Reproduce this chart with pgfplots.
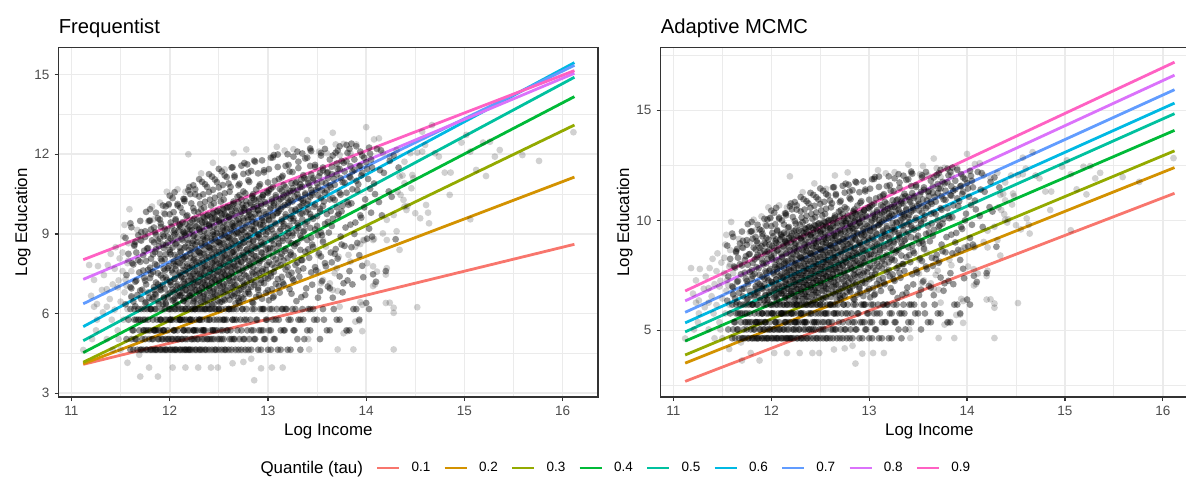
\documentclass[border=0pt]{standalone}
\usepackage{fontspec}
\setmainfont{Liberation Sans}
\usepackage{pgfplots}
\usepackage{pgfplotstable}
\pgfplotsset{compat=1.18}

\definecolor{grey92}{HTML}{EBEBEB}
\definecolor{grey20}{HTML}{333333}
\definecolor{grey30}{HTML}{4D4D4D}
\definecolor{q1}{HTML}{F8766D}
\definecolor{q2}{HTML}{D39200}
\definecolor{q3}{HTML}{93AA00}
\definecolor{q4}{HTML}{00BA38}
\definecolor{q5}{HTML}{00C19F}
\definecolor{q6}{HTML}{00B9E3}
\definecolor{q7}{HTML}{619CFF}
\definecolor{q8}{HTML}{DB72FB}
\definecolor{q9}{HTML}{FF61C3}

% dense part of the cloud (log income, log education), first sweep
\pgfplotstableread{
x y
11.63 4.64
11.67 4.64
11.61 5.04
11.65 5.04
11.69 5.37
11.62 5.37
11.66 5.77
11.64 5.77
11.68 6.17
11.60 6.17
11.63 6.45
11.67 6.70
11.61 6.95
11.65 7.20
11.69 7.55
11.62 7.90
11.66 8.30
11.64 8.60
11.68 8.95
11.60 9.40
11.73 4.64
11.77 4.64
11.71 4.64
11.75 5.04
11.79 5.04
11.72 5.04
11.76 5.37
11.74 5.37
11.78 5.77
11.70 5.77
11.73 5.77
11.77 6.17
11.71 6.17
11.75 6.40
11.79 6.60
11.72 6.90
11.76 7.10
11.74 7.35
11.78 7.65
11.70 7.95
11.73 8.20
11.77 8.45
11.71 8.75
11.75 9.10
11.79 9.50
11.83 4.64
11.87 4.64
11.81 4.64
11.85 4.64
11.89 5.04
11.82 5.04
11.86 5.37
11.84 5.37
11.88 5.37
11.80 5.37
11.83 5.77
11.87 5.77
11.81 6.17
11.85 6.17
11.89 6.37
11.82 6.54
11.86 6.71
11.84 6.89
11.88 7.10
11.80 7.34
11.83 7.57
11.87 7.82
11.81 8.07
11.85 8.32
11.89 8.54
11.82 8.76
11.86 8.97
11.84 9.24
11.88 9.59
11.80 9.93
11.93 4.64
11.97 4.64
11.91 4.64
11.95 4.64
11.99 5.04
11.92 5.04
11.96 5.04
11.94 5.37
11.98 5.37
11.90 5.37
11.93 5.37
11.97 5.77
11.91 5.77
11.95 6.17
11.99 6.17
11.92 6.17
11.96 6.40
11.94 6.58
11.98 6.73
11.90 6.91
11.93 7.09
11.97 7.27
11.91 7.44
11.95 7.62
11.99 7.79
11.92 7.99
11.96 8.23
11.94 8.47
11.98 8.67
11.90 8.82
11.93 8.98
11.97 9.13
11.91 9.39
11.95 9.75
11.99 10.12
12.03 4.64
12.07 4.64
12.01 4.64
12.05 4.64
12.09 5.04
12.02 5.04
12.06 5.04
12.04 5.37
12.08 5.37
12.00 5.77
12.03 5.77
12.07 5.77
12.01 5.77
12.05 6.17
12.09 6.17
12.02 6.17
12.06 6.40
12.04 6.53
12.08 6.65
12.00 6.78
12.03 6.91
12.07 7.04
12.01 7.18
12.05 7.31
12.09 7.46
12.02 7.63
12.06 7.80
12.04 7.97
12.08 8.14
12.00 8.31
12.03 8.49
12.07 8.66
12.01 8.83
12.05 8.98
12.09 9.13
12.02 9.28
12.06 9.51
12.04 9.82
12.08 10.13
12.00 10.44
12.13 4.64
12.17 4.64
12.11 4.64
12.15 4.64
12.19 4.64
12.12 5.04
12.16 5.04
12.14 5.37
12.18 5.37
12.10 5.77
12.13 5.77
12.17 5.77
12.11 5.77
12.15 5.77
12.19 6.17
12.12 6.17
12.16 6.17
12.14 6.47
12.18 6.58
12.10 6.68
12.13 6.78
12.17 6.89
12.11 6.99
12.15 7.11
12.19 7.24
12.12 7.37
12.16 7.50
12.14 7.64
12.18 7.77
12.10 7.90
12.13 8.03
12.17 8.16
12.11 8.31
12.15 8.48
12.19 8.65
12.12 8.82
12.16 8.96
12.14 9.08
12.18 9.20
12.10 9.32
12.13 9.44
12.17 9.66
12.11 9.99
12.15 10.31
12.19 10.64
12.23 4.64
12.27 4.64
12.21 4.64
12.25 5.04
12.29 5.04
12.22 5.04
12.26 5.37
12.24 5.37
12.28 5.37
12.20 5.37
12.23 5.77
12.27 5.77
12.21 5.77
12.25 6.17
12.29 6.17
12.22 6.17
12.26 6.17
12.24 6.41
12.28 6.56
12.20 6.67
12.23 6.77
12.27 6.88
12.21 6.98
12.25 7.08
12.29 7.19
12.22 7.29
12.26 7.40
12.24 7.50
12.28 7.61
12.20 7.72
12.23 7.83
12.27 7.96
12.21 8.09
12.25 8.22
12.29 8.35
12.22 8.47
12.26 8.60
12.24 8.73
12.28 8.86
12.20 9.00
12.23 9.13
12.27 9.28
12.21 9.42
12.25 9.57
12.29 9.81
12.22 10.15
12.26 10.49
12.24 10.83
12.33 4.64
12.37 4.64
12.31 4.64
12.35 5.04
12.39 5.04
12.32 5.37
12.36 5.37
12.34 5.37
12.38 5.77
12.30 5.77
12.33 5.77
12.37 6.17
12.31 6.17
12.35 6.17
12.39 6.32
12.32 6.43
12.36 6.54
12.34 6.65
12.38 6.76
12.30 6.87
12.33 6.97
12.37 7.07
12.31 7.18
12.35 7.28
12.39 7.39
12.32 7.49
12.36 7.60
12.34 7.71
12.38 7.81
12.30 7.92
12.33 8.03
12.37 8.16
12.31 8.28
12.35 8.40
12.39 8.53
12.32 8.65
12.36 8.77
12.34 8.90
12.38 9.02
12.30 9.15
12.33 9.27
12.37 9.38
12.31 9.50
12.35 9.61
12.39 9.72
12.32 9.92
12.36 10.21
12.34 10.49
12.38 10.77
12.30 11.06
12.43 4.64
12.47 4.64
12.41 5.04
12.45 5.04
12.49 5.04
12.42 5.37
12.46 5.37
12.44 5.37
12.48 5.77
12.40 5.77
12.43 6.17
12.47 6.17
12.41 6.17
12.45 6.38
12.49 6.49
12.42 6.61
12.46 6.72
12.44 6.83
12.48 6.94
12.40 7.05
12.43 7.16
12.47 7.27
12.41 7.37
12.45 7.48
12.49 7.58
12.42 7.68
12.46 7.79
12.44 7.90
12.48 8.01
12.40 8.12
12.43 8.23
12.47 8.35
12.41 8.47
12.45 8.59
12.49 8.71
12.42 8.83
12.46 8.95
12.44 9.07
12.48 9.19
12.40 9.31
12.43 9.43
12.47 9.54
12.41 9.65
12.45 9.76
12.49 9.87
12.42 10.07
12.46 10.36
12.44 10.66
12.48 10.95
12.40 11.25
12.53 4.64
12.57 4.64
12.51 5.04
12.55 5.04
12.59 5.37
12.52 5.37
12.56 5.77
12.54 5.77
12.58 5.77
12.50 6.17
12.53 6.17
12.57 6.17
12.51 6.42
12.55 6.54
12.59 6.67
12.52 6.79
12.56 6.90
12.54 7.02
12.58 7.13
12.50 7.24
12.53 7.35
12.57 7.46
12.51 7.57
12.55 7.67
12.59 7.78
12.52 7.88
12.56 7.99
12.54 8.10
12.58 8.21
12.50 8.32
12.53 8.43
12.57 8.54
12.51 8.66
12.55 8.78
12.59 8.89
12.52 9.01
12.56 9.12
12.54 9.24
12.58 9.35
12.50 9.46
12.53 9.58
12.57 9.69
12.51 9.80
12.55 9.91
12.59 10.02
12.52 10.22
12.56 10.53
12.54 10.84
12.58 11.14
12.50 11.45
12.63 4.64
12.67 4.64
12.61 5.04
12.65 5.04
12.69 5.37
12.62 5.37
12.66 5.77
12.64 5.77
12.68 6.17
12.60 6.17
12.63 6.17
12.67 6.39
12.61 6.52
12.65 6.65
12.69 6.78
12.62 6.97
12.66 7.08
12.64 7.20
12.68 7.32
12.60 7.43
12.63 7.54
12.67 7.65
12.61 7.76
12.65 7.87
12.69 7.98
12.62 8.08
12.66 8.19
12.64 8.30
12.68 8.41
12.60 8.52
12.63 8.63
12.67 8.74
12.61 8.85
12.65 8.96
12.69 9.07
12.62 9.18
12.66 9.29
12.64 9.40
12.68 9.51
12.60 9.62
12.63 9.75
12.67 9.88
12.61 10.01
12.65 10.14
12.69 10.40
12.62 10.77
12.66 11.14
12.64 11.51
12.73 4.64
12.77 4.64
12.71 5.04
12.75 5.04
12.79 5.37
12.72 5.77
12.76 5.77
12.74 6.17
12.78 6.17
12.70 6.47
12.73 6.61
12.77 6.75
12.71 6.88
12.75 7.02
12.79 7.17
12.72 7.32
12.76 7.47
12.74 7.62
12.78 7.74
12.70 7.85
12.73 7.96
12.77 8.07
12.71 8.18
12.75 8.30
12.79 8.43
12.72 8.56
12.76 8.69
12.74 8.81
12.78 8.92
12.70 9.03
12.73 9.14
12.77 9.25
12.71 9.37
12.75 9.50
12.79 9.63
12.72 9.76
12.76 9.88
12.74 9.98
12.78 10.09
12.70 10.19
12.73 10.30
12.77 10.53
12.71 10.89
12.75 11.26
12.79 11.62
12.83 4.64
12.87 5.04
12.81 5.04
12.85 5.37
12.89 5.77
12.82 5.77
12.86 6.17
12.84 6.43
12.88 6.63
12.80 6.81
12.83 7.00
12.87 7.18
12.81 7.35
12.85 7.50
12.89 7.65
12.82 7.80
12.86 7.94
12.84 8.05
12.88 8.16
12.80 8.27
12.83 8.38
12.87 8.50
12.81 8.63
12.85 8.76
12.89 8.89
12.82 9.03
12.86 9.16
12.84 9.29
12.88 9.42
12.80 9.53
12.83 9.63
12.87 9.74
12.81 9.84
12.85 9.94
12.89 10.05
12.82 10.18
12.86 10.30
12.84 10.43
12.88 10.67
12.80 11.02
12.83 11.37
12.87 11.72
12.93 4.64
12.97 5.04
12.91 5.37
12.95 5.37
12.99 5.77
12.92 6.17
12.96 6.17
12.94 6.56
12.98 6.78
12.90 6.97
12.93 7.16
12.97 7.34
12.91 7.52
12.95 7.68
12.99 7.83
12.92 7.99
12.96 8.14
12.94 8.28
12.98 8.41
12.90 8.55
12.93 8.69
12.97 8.82
12.91 8.96
12.95 9.09
12.99 9.22
12.92 9.35
12.96 9.47
12.94 9.60
12.98 9.74
12.90 9.90
12.93 10.06
12.97 10.20
12.91 10.33
12.95 10.45
12.99 10.58
12.92 10.87
12.96 11.32
12.94 11.77
13.03 4.64
13.07 5.04
13.01 5.37
13.05 5.77
13.09 6.17
13.02 6.17
13.06 6.65
13.04 6.92
13.08 7.12
13.00 7.32
13.03 7.52
13.07 7.73
13.01 7.94
13.05 8.15
13.09 8.33
13.02 8.47
13.06 8.61
13.04 8.75
13.08 8.91
13.00 9.09
13.03 9.27
13.07 9.42
13.01 9.54
13.05 9.66
13.09 9.78
13.02 9.92
13.06 10.07
13.04 10.22
13.08 10.38
13.00 10.54
13.03 10.70
13.07 11.00
13.01 11.44
13.05 11.88
13.13 4.64
13.17 5.37
13.11 5.77
13.15 6.17
13.19 6.17
13.12 6.79
13.16 7.10
13.14 7.38
13.18 7.66
13.10 7.91
13.13 8.13
13.17 8.35
13.11 8.55
13.15 8.74
13.19 8.93
13.12 9.11
13.16 9.29
13.14 9.47
13.18 9.64
13.10 9.79
13.13 9.94
13.17 10.09
13.11 10.24
13.15 10.38
13.19 10.53
13.12 10.69
13.16 10.84
13.14 11.13
13.18 11.56
13.10 11.99
13.23 4.64
13.27 5.37
13.21 5.77
13.25 6.17
13.29 6.47
13.22 6.92
13.26 7.25
13.24 7.54
13.28 7.83
13.20 8.09
13.23 8.31
13.27 8.54
13.21 8.75
13.25 8.94
13.29 9.13
13.22 9.31
13.26 9.49
13.24 9.67
13.28 9.87
13.20 10.09
13.23 10.27
13.27 10.41
13.21 10.54
13.25 10.72
13.29 10.95
13.22 11.35
13.26 11.91
13.33 4.64
13.37 5.04
13.31 5.77
13.35 6.17
13.39 6.95
13.32 7.39
13.36 7.70
13.34 8.01
13.38 8.33
13.30 8.67
13.33 8.94
13.37 9.13
13.31 9.32
13.35 9.55
13.39 9.82
13.32 10.02
13.36 10.17
13.34 10.31
13.38 10.48
13.30 10.66
13.33 10.87
13.37 11.10
13.31 11.48
13.35 12.03
13.43 5.37
13.47 5.77
13.41 6.17
13.45 7.09
13.49 7.63
13.42 8.10
13.46 8.51
13.44 8.86
13.48 9.17
13.40 9.46
13.43 9.75
13.47 10.02
13.41 10.25
13.45 10.46
13.49 10.65
13.42 10.83
13.46 11.03
13.44 11.24
13.48 11.52
13.40 11.87
13.43 12.22
13.53 5.04
13.57 5.77
13.51 6.60
13.55 7.22
13.59 7.78
13.52 8.27
13.56 8.70
13.54 9.05
13.58 9.38
13.50 9.67
13.53 9.95
13.57 10.22
13.51 10.45
13.55 10.64
13.59 10.90
13.52 11.17
13.56 11.39
13.54 11.95
13.63 5.37
13.67 6.17
13.61 7.02
13.65 7.93
13.69 8.43
13.62 9.05
13.66 9.57
13.64 9.86
13.68 10.28
13.60 10.64
13.63 10.83
13.67 11.07
13.61 11.33
13.65 11.53
13.69 12.06
13.73 5.77
13.77 7.14
13.71 8.07
13.75 8.60
13.79 9.24
13.72 9.76
13.76 10.06
13.74 10.48
13.78 10.93
13.70 11.24
13.73 11.45
13.77 11.68
13.71 12.14
13.83 5.37
13.87 6.17
13.81 7.25
13.85 8.50
13.89 9.43
13.82 10.10
13.86 10.68
13.84 11.12
13.88 11.41
13.80 11.73
13.83 12.20
13.93 5.77
13.97 7.37
13.91 8.66
13.95 9.61
13.99 10.30
13.92 10.87
13.96 11.30
13.94 11.57
13.98 11.87
13.90 12.30
14.03 6.17
14.07 7.48
14.01 8.82
14.05 9.80
14.09 10.50
14.02 11.07
14.06 11.50
14.04 12.02
}\densepts

% dense part, second sweep read between the first one
\pgfplotstableread{
x y
11.60 4.64
11.56 5.04
11.63 5.37
11.58 5.77
11.64 6.17
11.55 6.35
11.61 6.65
11.60 7.00
11.56 7.45
11.63 7.85
11.58 8.25
11.64 8.55
11.55 8.85
11.61 9.25
11.70 4.64
11.66 5.04
11.73 5.37
11.68 5.77
11.74 6.17
11.65 6.28
11.71 6.55
11.70 6.87
11.66 7.24
11.73 7.62
11.68 8.01
11.74 8.37
11.65 8.70
11.71 9.07
11.70 9.49
11.80 4.64
11.76 4.64
11.83 5.04
11.78 5.37
11.84 5.37
11.75 5.77
11.81 6.17
11.80 6.17
11.76 6.44
11.83 6.62
11.78 6.79
11.84 7.00
11.75 7.24
11.81 7.48
11.80 7.73
11.76 7.98
11.83 8.23
11.78 8.47
11.84 8.68
11.75 8.89
11.81 9.17
11.80 9.50
11.76 9.83
11.90 4.64
11.86 4.64
11.93 5.04
11.88 5.04
11.94 5.37
11.85 5.37
11.91 5.77
11.90 5.77
11.86 6.17
11.93 6.36
11.88 6.48
11.94 6.61
11.85 6.74
11.91 6.88
11.90 7.01
11.86 7.17
11.93 7.34
11.88 7.52
11.94 7.69
11.85 7.87
11.91 8.06
11.90 8.24
11.86 8.43
11.93 8.60
11.88 8.75
11.94 8.91
11.85 9.06
11.91 9.27
11.90 9.54
11.86 9.80
11.93 10.07
12.00 4.64
11.96 4.64
12.03 5.04
11.98 5.04
12.04 5.37
11.95 5.77
12.01 5.77
12.00 6.17
11.96 6.36
12.03 6.49
11.98 6.61
12.04 6.81
11.95 6.94
12.01 7.08
12.00 7.21
11.96 7.37
12.03 7.54
11.98 7.71
12.04 7.88
11.95 8.05
12.01 8.23
12.00 8.40
11.96 8.58
12.03 8.75
11.98 8.90
12.04 9.05
11.95 9.20
12.01 9.43
12.00 9.74
11.96 10.04
12.03 10.35
12.10 4.64
12.06 4.64
12.13 5.04
12.08 5.04
12.14 5.37
12.05 5.37
12.11 5.77
12.10 5.77
12.06 6.17
12.13 6.17
12.08 6.32
12.14 6.49
12.05 6.59
12.11 6.69
12.10 6.79
12.06 6.89
12.13 6.99
12.08 7.10
12.14 7.21
12.05 7.31
12.11 7.42
12.10 7.54
12.06 7.67
12.13 7.81
12.08 7.94
12.14 8.07
12.05 8.21
12.11 8.35
12.10 8.49
12.06 8.62
12.13 8.76
12.08 8.89
12.14 9.01
12.05 9.13
12.11 9.25
12.10 9.37
12.06 9.56
12.13 9.81
12.08 10.07
12.14 10.32
12.05 10.57
12.20 4.64
12.16 4.64
12.23 5.04
12.18 5.04
12.24 5.37
12.15 5.37
12.21 5.77
12.20 5.77
12.16 6.17
12.23 6.17
12.18 6.37
12.24 6.48
12.15 6.58
12.21 6.68
12.20 6.78
12.16 6.89
12.23 6.99
12.18 7.09
12.24 7.19
12.15 7.30
12.21 7.41
12.20 7.51
12.16 7.62
12.23 7.74
12.18 7.87
12.24 8.00
12.15 8.13
12.21 8.26
12.20 8.39
12.16 8.52
12.23 8.65
12.18 8.78
12.24 8.91
12.15 9.04
12.21 9.16
12.20 9.28
12.16 9.39
12.23 9.51
12.18 9.70
12.24 9.97
12.15 10.23
12.21 10.50
12.20 10.77
12.30 4.64
12.26 4.64
12.33 5.04
12.28 5.04
12.34 5.37
12.25 5.37
12.31 5.77
12.30 5.77
12.26 6.17
12.33 6.17
12.28 6.34
12.34 6.45
12.25 6.56
12.31 6.66
12.30 6.77
12.26 6.87
12.33 6.97
12.28 7.08
12.34 7.18
12.25 7.29
12.31 7.39
12.30 7.50
12.26 7.60
12.33 7.71
12.28 7.82
12.34 7.93
12.25 8.06
12.31 8.18
12.30 8.31
12.26 8.44
12.33 8.56
12.28 8.69
12.34 8.82
12.25 8.95
12.31 9.08
12.30 9.20
12.26 9.31
12.33 9.43
12.28 9.54
12.34 9.65
12.25 9.85
12.31 10.13
12.30 10.41
12.26 10.68
12.33 10.96
12.40 4.64
12.36 4.64
12.43 5.04
12.38 5.04
12.44 5.37
12.35 5.37
12.41 5.77
12.40 6.17
12.36 6.17
12.43 6.35
12.38 6.52
12.44 6.63
12.35 6.74
12.41 6.85
12.40 6.96
12.36 7.06
12.43 7.17
12.38 7.27
12.44 7.37
12.35 7.48
12.41 7.58
12.40 7.69
12.36 7.80
12.43 7.91
12.38 8.02
12.44 8.13
12.35 8.25
12.41 8.37
12.40 8.50
12.36 8.62
12.43 8.74
12.38 8.86
12.44 8.98
12.35 9.11
12.41 9.23
12.40 9.35
12.36 9.46
12.43 9.57
12.38 9.68
12.44 9.79
12.35 9.99
12.41 10.29
12.40 10.58
12.36 10.87
12.43 11.16
12.50 4.64
12.46 4.64
12.53 5.04
12.48 5.37
12.54 5.37
12.45 5.77
12.51 5.77
12.50 6.17
12.46 6.17
12.53 6.45
12.48 6.70
12.54 6.81
12.45 6.93
12.51 7.04
12.50 7.15
12.46 7.26
12.53 7.37
12.48 7.47
12.54 7.57
12.45 7.68
12.51 7.78
12.50 7.89
12.46 8.00
12.53 8.11
12.48 8.22
12.54 8.33
12.45 8.45
12.51 8.57
12.50 8.69
12.46 8.81
12.53 8.93
12.48 9.04
12.54 9.16
12.45 9.28
12.51 9.39
12.50 9.51
12.46 9.62
12.53 9.73
12.48 9.84
12.54 9.95
12.45 10.15
12.51 10.45
12.50 10.75
12.46 11.05
12.53 11.35
12.60 4.64
12.56 4.64
12.63 5.04
12.58 5.37
12.64 5.77
12.55 5.77
12.61 6.17
12.60 6.17
12.56 6.50
12.63 6.70
12.58 6.88
12.64 6.99
12.55 7.11
12.61 7.23
12.60 7.34
12.56 7.45
12.63 7.56
12.58 7.67
12.64 7.77
12.55 7.88
12.61 7.98
12.60 8.09
12.56 8.20
12.63 8.31
12.58 8.42
12.64 8.53
12.55 8.64
12.61 8.75
12.60 8.86
12.56 8.97
12.63 9.09
12.58 9.20
12.64 9.32
12.55 9.43
12.61 9.54
12.60 9.65
12.56 9.76
12.63 9.87
12.58 9.98
12.64 10.09
12.55 10.29
12.61 10.59
12.60 10.90
12.56 11.20
12.63 11.50
12.70 4.64
12.66 5.04
12.73 5.37
12.68 5.77
12.74 6.17
12.65 6.17
12.71 6.41
12.70 6.58
12.66 6.75
12.73 6.92
12.68 7.07
12.74 7.22
12.65 7.37
12.71 7.52
12.70 7.66
12.66 7.79
12.73 7.93
12.68 8.06
12.74 8.20
12.65 8.33
12.71 8.47
12.70 8.60
12.66 8.74
12.73 8.87
12.68 9.01
12.74 9.14
12.65 9.28
12.71 9.42
12.70 9.55
12.66 9.69
12.73 9.83
12.68 9.96
12.74 10.09
12.65 10.22
12.71 10.46
12.70 10.83
12.66 11.20
12.73 11.57
12.80 4.64
12.76 5.04
12.83 5.37
12.78 5.77
12.84 6.17
12.75 6.56
12.81 6.74
12.80 6.92
12.76 7.09
12.83 7.26
12.78 7.41
12.84 7.56
12.75 7.71
12.81 7.85
12.80 7.99
12.76 8.12
12.83 8.26
12.78 8.40
12.84 8.53
12.75 8.66
12.81 8.79
12.80 8.93
12.76 9.06
12.83 9.19
12.78 9.32
12.84 9.46
12.75 9.59
12.81 9.72
12.80 9.85
12.76 9.97
12.83 10.10
12.78 10.23
12.84 10.36
12.75 10.60
12.81 10.96
12.80 11.31
12.76 11.67
12.90 4.64
12.86 5.04
12.93 5.37
12.88 5.77
12.94 6.17
12.85 6.40
12.91 6.70
12.90 6.89
12.86 7.08
12.93 7.27
12.88 7.44
12.94 7.59
12.85 7.74
12.91 7.89
12.90 8.04
12.86 8.18
12.93 8.31
12.88 8.45
12.94 8.59
12.85 8.72
12.91 8.86
12.90 8.99
12.86 9.12
12.93 9.25
12.88 9.38
12.94 9.51
12.85 9.63
12.91 9.76
12.90 9.88
12.86 10.01
12.93 10.13
12.88 10.26
12.94 10.38
12.85 10.50
12.91 10.80
12.90 11.28
12.86 11.76
13.00 4.64
12.96 5.04
13.03 5.37
12.98 5.77
13.04 6.17
12.95 6.17
13.01 6.50
13.00 6.88
12.96 7.14
13.03 7.40
12.98 7.64
13.04 7.85
12.95 8.06
13.01 8.26
13.00 8.45
12.96 8.63
13.03 8.81
12.98 8.99
13.04 9.17
12.95 9.34
13.01 9.51
13.00 9.67
12.96 9.83
13.03 9.99
12.98 10.14
13.04 10.30
12.95 10.47
13.01 10.63
13.00 10.94
12.96 11.40
13.03 11.87
13.10 4.64
13.06 5.04
13.13 5.37
13.08 5.77
13.14 6.17
13.05 6.60
13.11 7.03
13.10 7.30
13.06 7.57
13.13 7.82
13.08 8.04
13.14 8.25
13.05 8.45
13.11 8.64
13.10 8.83
13.06 9.01
13.13 9.19
13.08 9.37
13.14 9.54
13.05 9.70
13.11 9.85
13.10 10.01
13.06 10.16
13.13 10.31
13.08 10.46
13.14 10.62
13.05 10.77
13.11 11.07
13.10 11.52
13.06 11.97
13.20 4.64
13.16 5.37
13.23 5.77
13.18 6.17
13.24 6.75
13.15 7.17
13.21 7.46
13.20 7.75
13.16 8.00
13.23 8.22
13.18 8.44
13.24 8.65
13.15 8.84
13.21 9.02
13.20 9.21
13.16 9.39
13.23 9.57
13.18 9.74
13.24 9.89
13.15 10.03
13.21 10.18
13.20 10.32
13.16 10.46
13.23 10.61
13.18 10.76
13.24 10.91
13.15 11.19
13.21 11.60
13.20 12.00
13.30 5.04
13.26 5.37
13.33 5.77
13.28 6.17
13.34 6.62
13.25 7.32
13.31 7.62
13.30 7.92
13.26 8.18
13.33 8.40
13.28 8.63
13.34 8.84
13.25 9.03
13.31 9.22
13.30 9.41
13.26 9.59
13.33 9.76
13.28 9.92
13.34 10.07
13.25 10.22
13.31 10.36
13.30 10.49
13.26 10.62
13.33 10.76
13.28 10.91
13.34 11.05
13.25 11.33
13.31 11.72
13.30 12.10
13.40 5.37
13.36 5.77
13.43 6.17
13.38 6.70
13.44 7.55
13.35 8.02
13.41 8.42
13.40 8.77
13.36 9.08
13.43 9.23
13.38 9.37
13.44 9.64
13.35 9.78
13.41 9.92
13.40 10.12
13.36 10.26
13.43 10.40
13.38 10.53
13.44 10.66
13.35 10.78
13.41 10.91
13.40 11.06
13.36 11.21
13.43 11.56
13.38 11.84
13.44 12.12
13.50 5.77
13.46 6.17
13.53 6.85
13.48 7.75
13.54 8.15
13.45 8.60
13.51 8.95
13.50 9.30
13.46 9.57
13.53 9.85
13.48 10.11
13.54 10.35
13.45 10.55
13.51 10.75
13.50 10.90
13.46 11.10
13.53 11.30
13.48 11.60
13.54 12.05
13.60 5.37
13.56 6.17
13.63 6.95
13.58 7.90
13.64 8.30
13.55 8.95
13.61 9.45
13.60 9.75
13.56 10.05
13.63 10.30
13.58 10.55
13.64 10.75
13.55 10.95
13.61 11.10
13.60 11.30
13.56 11.50
13.63 11.80
13.58 12.20
13.70 5.77
13.66 6.60
13.73 7.40
13.68 8.25
13.74 8.90
13.65 9.30
13.71 9.70
13.70 10.00
13.66 10.35
13.73 10.55
13.68 10.85
13.74 11.10
13.65 11.25
13.71 11.45
13.70 11.65
13.66 11.95
13.73 12.30
13.80 5.37
13.76 6.80
13.83 7.60
13.78 8.55
13.84 9.35
13.75 9.85
13.81 10.20
13.80 10.55
13.76 10.95
13.83 11.15
13.78 11.35
13.84 11.55
13.75 11.75
13.81 12.05
13.80 12.35
13.90 6.17
13.86 7.10
13.93 8.20
13.88 9.00
13.94 9.70
13.85 10.15
13.91 10.65
13.90 11.00
13.86 11.35
13.93 11.55
13.88 11.80
13.94 12.10
13.85 12.40
14.00 6.40
13.96 7.80
14.03 9.20
13.98 10.00
14.04 10.70
13.95 11.20
14.01 11.45
14.00 11.70
13.96 11.95
14.03 12.25
14.10 7.20
14.06 8.90
14.13 10.20
14.08 10.90
14.14 11.40
14.05 11.80
14.11 12.20
14.20 7.60
14.16 9.70
14.23 10.60
14.18 11.30
14.24 11.75
14.15 12.15
14.30 8.80
14.26 10.40
14.33 11.50
14.28 11.95
}\densebpts

% sparse points: left edge, outliers and the right tail
\pgfplotstableread{
x y
11.12 4.63
11.18 7.83
11.27 7.79
11.37 7.83
11.49 8.08
11.57 7.90
11.23 7.27
11.31 6.89
11.36 6.92
11.23 6.26
11.36 6.26
11.26 5.77
11.25 5.37
11.36 5.04
11.48 5.04
11.57 4.15
11.47 5.37
11.53 5.77
11.57 6.17
11.20 6.67
11.26 6.36
11.41 5.77
11.47 6.99
11.55 7.29
11.44 7.69
11.54 6.80
11.54 9.34
11.59 9.93
11.53 8.90
11.58 8.65
11.21 5.04
11.42 4.64
11.50 4.64
11.33 7.45
11.40 8.25
11.45 8.50
11.52 8.30
11.39 6.55
11.50 6.45
11.56 7.05
11.44 6.15
11.32 6.05
11.58 8.00
11.52 7.60
11.48 7.25
11.42 7.10
11.69 4.45
11.67 9.15
11.78 9.46
11.82 10.03
11.90 10.18
11.97 10.59
12.08 10.68
12.16 10.59
12.19 12.00
12.32 11.28
12.44 11.68
12.56 11.43
12.65 12.04
11.94 9.80
11.99 10.09
11.70 8.78
11.78 9.00
11.84 9.55
11.61 7.60
11.61 6.60
14.00 13.02
13.66 12.81
13.40 12.53
13.09 12.28
12.78 12.18
13.55 12.47
13.69 12.37
13.77 12.39
13.90 12.37
14.08 12.56
14.13 12.60
13.26 12.19
13.17 12.14
13.43 12.16
13.52 12.10
13.60 12.04
13.73 11.97
13.84 12.04
14.17 12.04
14.24 11.91
14.31 12.16
14.34 11.16
14.39 10.91
14.32 10.59
14.38 10.28
14.41 9.90
14.28 9.71
14.21 9.53
14.07 8.77
14.17 9.02
14.21 8.77
14.31 9.10
14.28 6.03
14.28 6.22
14.28 4.65
14.20 7.47
14.20 6.40
14.09 7.10
14.07 7.78
14.01 7.90
14.08 8.81
13.98 8.76
13.96 5.34
13.93 5.72
13.87 4.65
13.71 4.65
13.81 5.34
13.73 6.26
13.71 6.85
13.42 4.65
13.15 3.97
13.04 3.97
12.86 3.49
12.75 4.18
12.83 4.30
12.49 3.97
12.42 3.97
12.29 3.97
12.16 3.97
12.03 3.97
11.79 3.97
11.88 3.63
11.70 3.63
12.64 4.13
12.93 3.94
14.24 6.41
13.96 6.33
13.94 6.43
13.89 5.70
13.77 5.26
13.66 6.89
13.63 7.14
13.56 7.27
13.41 5.04
13.51 7.58
13.54 7.14
13.68 7.52
13.70 7.71
13.72 8.14
13.82 8.21
13.89 8.52
13.84 7.96
14.07 7.04
14.11 7.58
14.21 7.71
14.34 8.40
13.94 8.62
13.97 8.77
13.56 8.77
13.59 8.52
13.51 8.21
14.67 13.10
14.57 12.85
14.97 12.44
15.02 12.73
15.19 12.44
15.26 12.47
15.36 12.16
15.31 11.91
15.59 11.97
15.76 11.75
16.11 12.83
15.06 12.10
14.80 11.31
14.86 11.31
15.12 11.41
15.22 11.18
14.85 10.47
14.61 10.09
14.63 9.80
14.64 9.40
14.50 9.78
14.55 9.59
15.06 9.55
14.52 6.24
14.47 11.22
14.48 11.10
14.46 10.72
14.37 11.20
14.39 11.72
14.45 12.04
14.52 12.06
14.57 12.10
14.70 12.04
14.74 11.91
14.35 10.47
14.39 10.03
14.42 10.05
14.60 12.35
}\sparsepts

\pgfplotsset{
  panel/.style={
    scale only axis, anchor=south west,
    xmin=10.87, xmax=16.36,
    xtick={11,12,13,14,15,16},
    minor xtick={11.5,12.5,13.5,14.5,15.5},
    grid=both,
    major grid style={color=grey92, line width=1.6pt},
    minor grid style={color=grey92, line width=0.8pt},
    axis line style={color=grey20, line width=1.2pt},
    tick align=outside, xtick pos=bottom, ytick pos=left,
    major tick length=4.2pt, minor tick length=0pt,
    major tick style={color=grey20, line width=1.2pt},
    /pgf/number format/assume math mode=true,
    tick label style={font=\fontsize{13.5}{15}\selectfont, text=grey30},
    xticklabel style={anchor=north, inner sep=0pt},
    yticklabel style={anchor=east, inner sep=0pt},
    xticklabel shift=5pt, yticklabel shift=5pt,
    xlabel={Log Income}, ylabel={Log Education},
    label style={font=\fontsize{16.9}{19}\selectfont},
    xlabel style={at={(axis description cs:0.5,0)}, anchor=north, inner sep=0pt, yshift=-27pt},
    ylabel style={at={(axis description cs:-0.0668,0.5)}, anchor=center, inner sep=0pt},
    title style={at={(axis description cs:0,1)}, anchor=south west, inner sep=0pt, yshift=4pt, font=\fontsize{20.2}{22}\selectfont},
  },
  dots/.style={only marks, mark=*, mark size=3.4pt, forget plot,
    mark options={fill=black, fill opacity=#1, draw opacity=0, line width=0pt}},
  qline/.style={line width=2.8pt},
}

\begin{document}
\begin{tikzpicture}
\begin{axis}[panel, at={(58.7pt,82pt)}, width=539.3pt, height=349.5pt,
  ymin=2.86, ymax=16.02, ytick={3,6,9,12,15}, minor ytick={4.5,7.5,10.5,13.5},
  title={Frequentist},
  legend columns=10,
  legend style={at={(axis description cs:0.3480,-0.2031)}, anchor=west, draw=none, fill=none,
    font=\fontsize{13.5}{15}\selectfont, nodes={inner sep=0pt},
    /tikz/every odd column/.append style={column sep=11pt},
    /tikz/every even column/.append style={column sep=12.9pt},
    /tikz/column 2/.append style={column sep=18pt}},
  legend image code/.code={\draw[#1] (0pt,0pt) -- (22pt,0pt);}]
\addplot[dots=0.42] table {\densepts};
\addplot[dots=0.42] table {\densebpts};
\addplot[dots=0.18] table {\sparsepts};
\addlegendimage{empty legend}
\addlegendentry{\fontsize{16.9}{19}\selectfont Quantile (tau)}
\addplot[qline, q1] coordinates {(11.12,4.09) (16.12,8.61)};
\addlegendentry{0.1}
\addplot[qline, q2] coordinates {(11.12,4.11) (16.12,11.14)};
\addlegendentry{0.2}
\addplot[qline, q3] coordinates {(11.12,4.17) (16.12,13.10)};
\addlegendentry{0.3}
\addplot[qline, q4] coordinates {(11.12,4.53) (16.12,14.17)};
\addlegendentry{0.4}
\addplot[qline, q5] coordinates {(11.12,4.98) (16.12,14.90)};
\addlegendentry{0.5}
\addplot[qline, q6] coordinates {(11.12,5.51) (16.12,15.45)};
\addlegendentry{0.6}
\addplot[qline, q7] coordinates {(11.12,6.37) (16.12,15.35)};
\addlegendentry{0.7}
\addplot[qline, q8] coordinates {(11.12,7.29) (16.12,15.05)};
\addlegendentry{0.8}
\addplot[qline, q9] coordinates {(11.12,8.03) (16.12,15.15)};
\addlegendentry{0.9}
\end{axis}

\begin{axis}[panel, at={(660.7pt,82pt)}, width=537.3pt, height=349.1pt,
  ymin=1.97, ymax=17.84, ytick={5,10,15}, minor ytick={2.5,7.5,12.5,17.5},
  title={Adaptive MCMC}]
\addplot[dots=0.42] table {\densepts};
\addplot[dots=0.42] table {\densebpts};
\addplot[dots=0.18] table {\sparsepts};
\addplot[qline, q1] coordinates {(11.12,2.68) (16.12,11.23)};
\addplot[qline, q2] coordinates {(11.12,3.51) (16.12,12.40)};
\addplot[qline, q3] coordinates {(11.12,3.88) (16.12,13.16)};
\addplot[qline, q4] coordinates {(11.12,4.51) (16.12,14.09)};
\addplot[qline, q5] coordinates {(11.12,4.93) (16.12,14.85)};
\addplot[qline, q6] coordinates {(11.12,5.34) (16.12,15.33)};
\addplot[qline, q7] coordinates {(11.12,5.82) (16.12,15.94)};
\addplot[qline, q8] coordinates {(11.12,6.34) (16.12,16.60)};
\addplot[qline, q9] coordinates {(11.12,6.79) (16.12,17.19)};
\end{axis}
\pgfresetboundingbox
\path[use as bounding box] (0,0) rectangle (1186pt,479pt);
\end{tikzpicture}
\end{document}
